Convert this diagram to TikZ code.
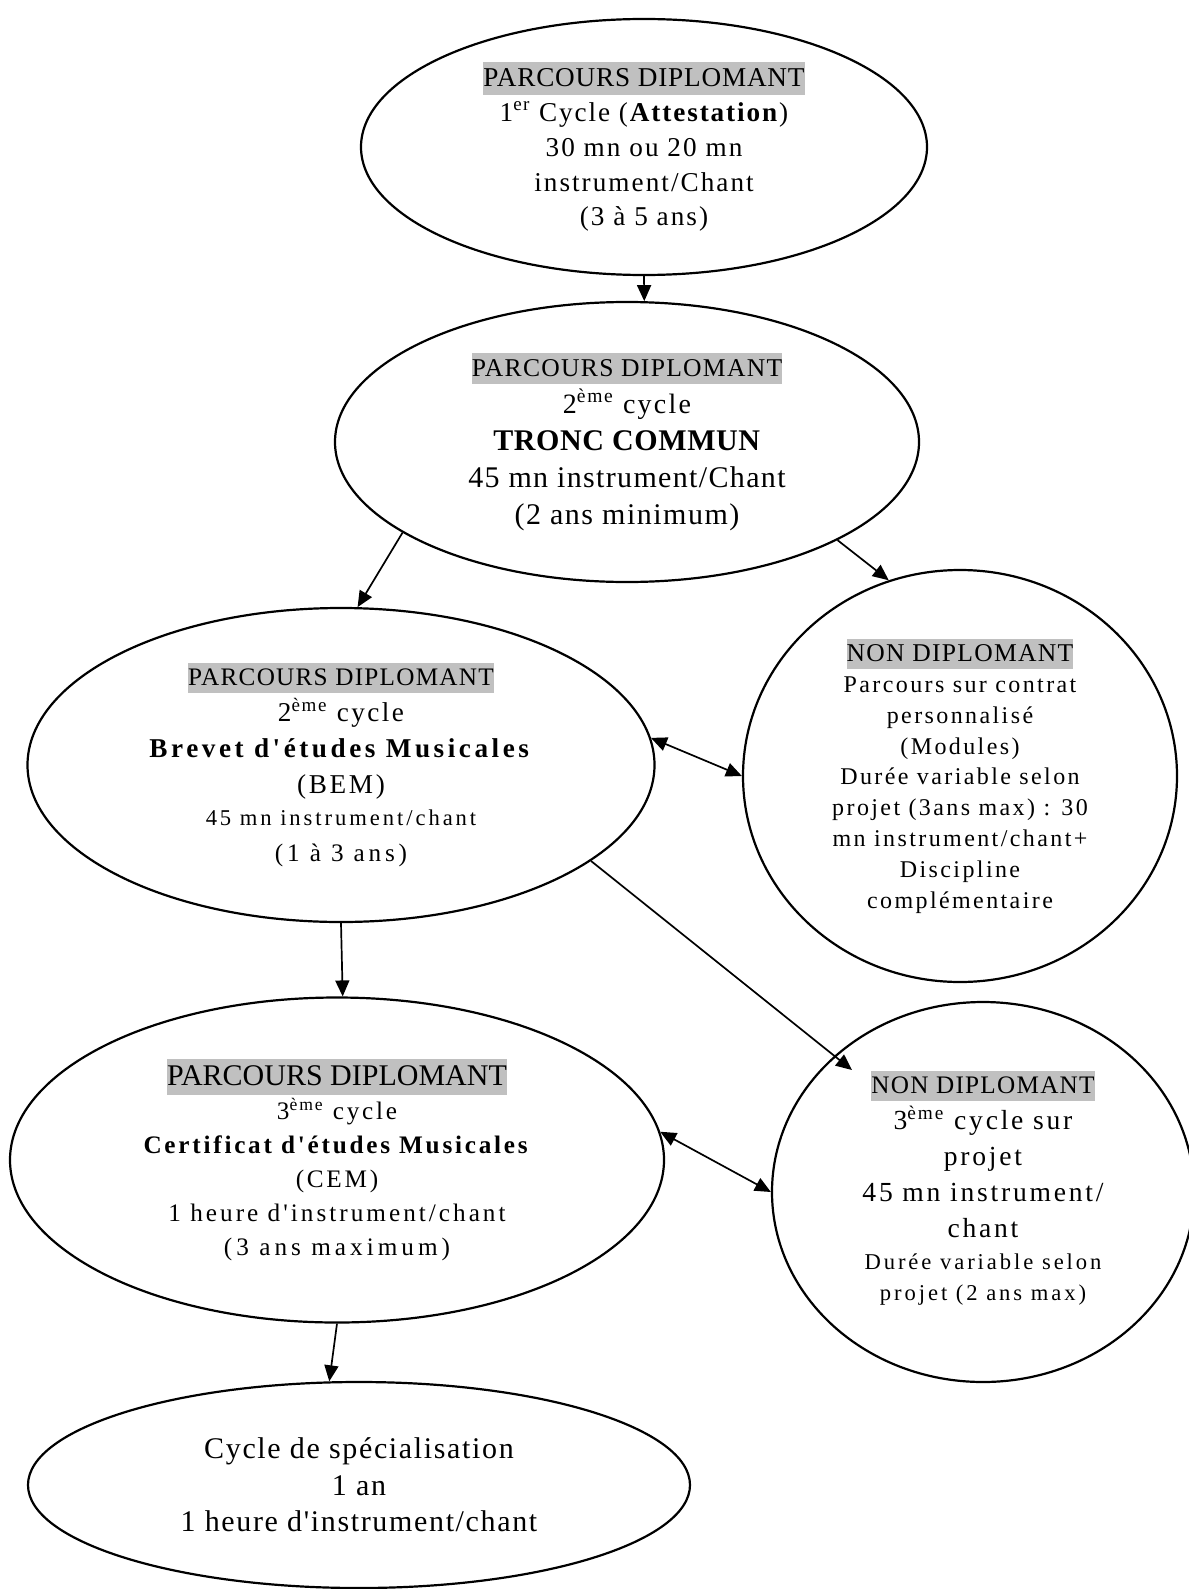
\documentclass[tikz,border=0pt]{standalone}
\usepackage{fontspec}
\setmainfont{Liberation Serif}[Ligatures=TeXOff]
\usetikzlibrary{shapes.geometric,arrows.meta}
\definecolor{hlgray}{RGB}{192,192,192}
\newcommand{\tline}[3]{{\fontsize{#1}{#1}\selectfont\addfontfeature{LetterSpace=#2}#3}}
\newcommand{\hlbox}[3]{{\fontsize{#1}{#1}\selectfont\addfontfeature{LetterSpace=#2}\setlength{\fboxsep}{0pt}\colorbox{hlgray}{\rule[-0.3em]{0pt}{1.19em}#3}}}
\tikzset{
  oval/.style={ellipse, draw, line width=1.1pt, inner sep=0pt, align=center},
  tip/.style={},
  conn/.style={line width=0.85pt, -{Triangle[length=8pt,width=7pt]}},
  conntwo/.style={line width=0.85pt, {Triangle[length=8pt,width=7pt]}-{Triangle[length=8pt,width=7pt]}}
}
\begin{document}
\begin{tikzpicture}[x=0.5pt,y=-0.5pt]
\fill[white] (0,0) rectangle (1188,1589);
\useasboundingbox (0,0) rectangle (1188,1589);

\node[oval, minimum width=283pt, minimum height=128pt, font=\fontsize{13.6}{17.4}\selectfont] (e1) at (644,147) {%
\hlbox{13.6}{3}{PARCOURS DIPLOMANT}\\
\tline{13.6}{7}{1\textsuperscript{er} Cycle (\textbf{Attestation})}\\
\tline{13.6}{7.5}{30 mn ou 20 mn}\\
\tline{13.6}{7.5}{instrument/Chant}\\
\tline{13.6}{7.5}{(3 à 5 ans)}};

\node[oval, minimum width=292pt, minimum height=140pt, font=\fontsize{15}{18.5}\selectfont] (e2) at (627,442) {%
\hlbox{12.8}{5}{PARCOURS DIPLOMANT}\\
\tline{14}{8}{2\textsuperscript{ème} cycle}\\
\tline{15}{2}{\textbf{TRONC COMMUN}}\\
\tline{15}{4.5}{45 mn instrument/Chant}\\
\tline{15}{5}{(2 ans minimum)}};

\node[oval, minimum width=313.5pt, minimum height=157pt, font=\fontsize{13.6}{18}\selectfont] (e3) at (341,765) {%
\hlbox{12.6}{5}{PARCOURS DIPLOMANT}\\
\tline{13.6}{9}{2\textsuperscript{ème} cycle}\\
\tline{13.6}{13}{\textbf{Brevet d'études Musicales}}\\
\tline{13.6}{10}{(BEM)}\\[-2pt]
\tline{11.3}{13}{45 mn instrument/chant}\\
\tline{12.6}{15}{(1 à 3 ans)}};

\node[oval, minimum width=217pt, minimum height=206pt, font=\fontsize{12}{15.4}\selectfont\addfontfeature{LetterSpace=10}] (e4) at (960,776) {%
\hlbox{12.8}{5}{NON DIPLOMANT}\\
Parcours sur contrat\\
personnalisé\\
(Modules)\\
Durée variable selon\\
projet (3ans max) : 30\\
mn instrument/chant+\\
Discipline\\
complémentaire};

\node[oval, minimum width=327pt, minimum height=162.5pt, font=\fontsize{12.6}{17}\selectfont\addfontfeature{LetterSpace=11}] (e5) at (337,1160) {%
\hlbox{15}{0}{PARCOURS DIPLOMANT}\\
3\textsuperscript{ème} cycle\\
\textbf{Certificat d'études Musicales}\\
(CEM)\\
\tline{12.6}{12}{1 heure d'instrument/chant}\\
\tline{12.6}{16}{(3 ans maximum)}};

\node[oval, minimum width=211pt, minimum height=190pt, font=\fontsize{13.8}{18}\selectfont\addfontfeature{LetterSpace=10}] (e6) at (983,1192) {%
\hlbox{12.6}{5}{NON DIPLOMANT}\\
3\textsuperscript{ème} cycle sur\\
projet\\
45 mn instrument/\\
chant\\[-2pt]
\tline{11.3}{13}{Durée variable selon}\\[-2.5pt]
\tline{11.3}{13}{projet (2 ans max)}\rule[-6pt]{0pt}{0pt}};

\node[oval, minimum width=331pt, minimum height=103pt, font=\fontsize{15}{18.3}\selectfont\addfontfeature{LetterSpace=5.5}] (e7) at (359,1485) {%
Cycle de spécialisation\\
1 an\\
1 heure d'instrument/chant};

\coordinate (a5end) at (852,1070);
\draw[conn] (e1.south) -- (e2.83);
\draw[conn] (e2.202) -- (e3.84);
\draw[conn] (e2.335) -- (e4.110);
\draw[conntwo] (e3.5) -- (e4.180);
\draw[conn] (e3.339) -- (a5end);
\draw[conn] (e3.south) -- (e5.88);
\draw[conntwo] (e5.5) -- (e6.180);
\draw[conn] (e5.south) -- (e7.106);
\end{tikzpicture}
\end{document}
